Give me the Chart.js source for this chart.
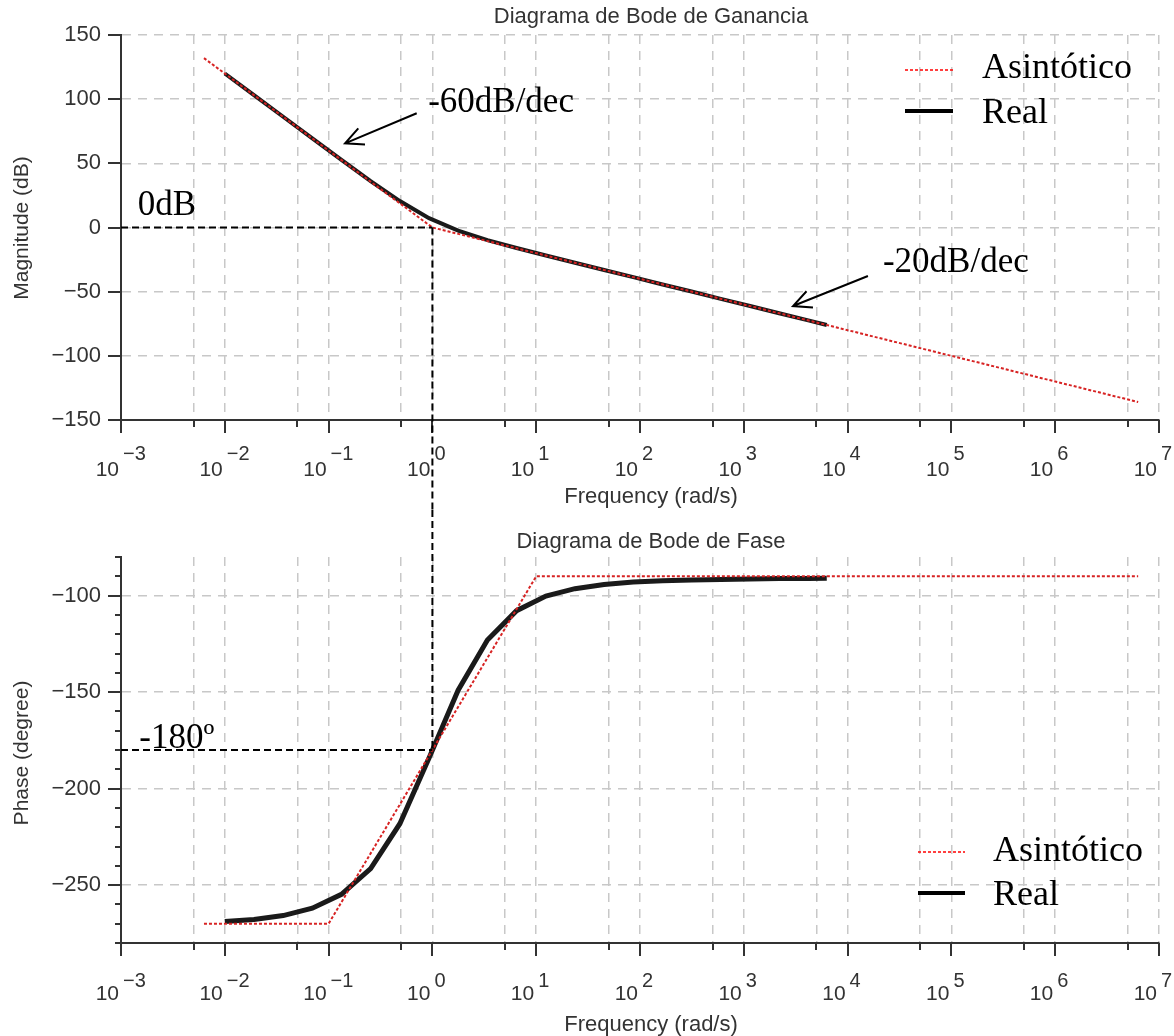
<!DOCTYPE html>
<html>
<head>
<meta charset="utf-8">
<title>Diagrama de Bode</title>
<script src="https://cdn.jsdelivr.net/npm/chart.js@4"></script>
<style>
    body {
        margin: 0;
        background-color: #ffffff;
    }
    .wrap {
        position: relative;
        width: 1174px;
        height: 1036px;
    }
    canvas {
        position: absolute;
        left: 0;
    }
    #magChart { top: 0; }
    #phaseChart { top: 510px; }
</style>
</head>
<body>
<div class="wrap">
    <canvas id="magChart" width="1174" height="510"></canvas>
    <canvas id="phaseChart" width="1174" height="526"></canvas>
</div>

<script>
// ---- values ----
// asymptotic (straight line) approximation
const asymMagFreq = [0.0063, 1, 6.3e6];
const asymMag = [132, 0, -136];
const asymPhaseFreq = [0.0063, 0.1, 10, 6.3e6];
const asymPhase = [-270, -270, -90, -90];

// real response
const realFreq = [0.01, 0.0191, 0.0365, 0.0697, 0.133, 0.254, 0.486, 0.928, 1.77, 3.39, 6.47,
                  12.4, 23.6, 45.1, 86.2, 165, 314, 600, 1150, 2190, 4180, 6300];
const realMag = [120.0, 103.2, 86.3, 69.5, 52.7, 36.2, 20.6, 7.3, -2.5, -9.9, -16.0,
                 -21.8, -27.5, -33.1, -38.7, -44.4, -49.9, -55.6, -61.2, -66.8, -72.4, -76.0];
const realPhase = [-268.9, -267.8, -265.8, -262.0, -254.8, -241.5, -218.2, -184.2, -149.0, -123.0, -107.8,
                   -100.2, -96.4, -94.2, -93.0, -92.3, -91.9, -91.6, -91.4, -91.2, -91.1, -91.0];

// axes
const decadeExps = [-3, -2, -1, 0, 1, 2, 3, 4, 5, 6, 7];
const magTicks = [-150, -100, -50, 0, 50, 100, 150];
const phaseTicks = [-250, -200, -150, -100];

// crossover point marked with the black dashed lines
const crossFreq = 1;
const crossMag = 0;
const crossPhase = -180;

const SANS = "'Liberation Sans', Arial, sans-serif";
const SERIF = "'Liberation Serif', 'Times New Roman', serif";
Chart.defaults.font.family = SANS;

// grid at 10^n and 5*10^n
const freqGrid = [];
decadeExps.forEach(n => {
    freqGrid.push(Math.pow(10, n));
    if (n < 7) freqGrid.push(5 * Math.pow(10, n));
});

function pts(xs, ys) {
    return xs.map((v, i) => ({x: v, y: ys[i]}));
}
function minusSign(s) {
    return String(s).replace('-', '\u2212');
}
function isDecade(v) {
    const l = Math.log10(v);
    return Math.abs(l - Math.round(l)) < 1e-6;
}

function drawArrow(ctx, x1, y1, x2, y2) {
    const ang = Math.atan2(y1 - y2, x1 - x2);
    const len = 20, spread = 0.45;
    ctx.beginPath();
    ctx.moveTo(x1, y1);
    ctx.lineTo(x2, y2);
    ctx.moveTo(x2 + len * Math.cos(ang - spread), y2 + len * Math.sin(ang - spread));
    ctx.lineTo(x2, y2);
    ctx.lineTo(x2 + len * Math.cos(ang + spread), y2 + len * Math.sin(ang + spread));
    ctx.stroke();
}

// ticks, superscript labels, titles, guide lines, notes and legend
const bodeDecor = {
    id: 'bodeDecor',
    afterDraw(chart, args, o) {
        const ctx = chart.ctx;
        const ca = chart.chartArea;
        const xs = chart.scales.x;
        const ys = chart.scales.y;
        ctx.save();

        // tick marks
        ctx.strokeStyle = '#333';
        ctx.lineWidth = 2;
        ctx.setLineDash([]);
        ctx.beginPath();
        freqGrid.forEach(v => {
            const px = Math.round(xs.getPixelForValue(v));
            ctx.moveTo(px, ca.bottom);
            ctx.lineTo(px, ca.bottom + (isDecade(v) ? 13 : 7));
        });
        ys.ticks.forEach(t => {
            const py = Math.round(ys.getPixelForValue(t.value));
            ctx.moveTo(ca.left, py);
            ctx.lineTo(ca.left - 13, py);
        });
        (o.minorY || []).forEach(v => {
            const py = Math.round(ys.getPixelForValue(v));
            ctx.moveTo(ca.left, py);
            ctx.lineTo(ca.left - 6, py);
        });
        ctx.stroke();

        // x tick labels 10^n
        ctx.fillStyle = '#333';
        ctx.textBaseline = 'alphabetic';
        decadeExps.forEach(n => {
            const px = xs.getPixelForValue(Math.pow(10, n));
            ctx.font = '21px ' + SANS;
            ctx.textAlign = 'right';
            ctx.fillText('10', px - 2, ca.bottom + o.baseDy);
            ctx.font = '20px ' + SANS;
            ctx.textAlign = 'left';
            ctx.fillText(minusSign(n), px + 2, ca.bottom + o.expDy);
        });

        // titles
        ctx.font = '22px ' + SANS;
        ctx.textAlign = 'center';
        ctx.textBaseline = 'middle';
        ctx.fillText(o.title, o.centerX, o.titleY);
        ctx.fillText('Frequency (rad/s)', o.centerX, ca.bottom + o.xTitleDy);
        ctx.font = '21px ' + SANS;
        ctx.save();
        ctx.translate(22, o.yTitleY);
        ctx.rotate(-Math.PI / 2);
        ctx.fillText(o.yTitle, 0, 0);
        ctx.restore();

        // black dashed guide lines
        const gx = xs.getPixelForValue(crossFreq);
        const gy = ys.getPixelForValue(o.guideY);
        ctx.strokeStyle = '#000';
        ctx.lineWidth = 2;
        ctx.setLineDash([7, 4]);
        ctx.beginPath();
        ctx.moveTo(ca.left, gy);
        ctx.lineTo(gx, gy);
        ctx.stroke();
        ctx.beginPath();
        if (o.guideDown) {
            ctx.moveTo(gx, gy);
            ctx.lineTo(gx, chart.height);
        } else {
            ctx.moveTo(gx, 0);
            ctx.lineTo(gx, gy);
        }
        ctx.stroke();
        ctx.setLineDash([]);

        // notes
        ctx.fillStyle = '#000';
        ctx.font = '35px ' + SERIF;
        ctx.textAlign = 'left';
        ctx.textBaseline = 'alphabetic';
        (o.notes || []).forEach(nt => {
            ctx.fillText(nt.text, xs.getPixelForValue(nt.x), ys.getPixelForValue(nt.y));
        });
        ctx.lineWidth = 2;
        ctx.strokeStyle = '#000';
        (o.arrows || []).forEach(a => {
            drawArrow(ctx,
                xs.getPixelForValue(a.from[0]), ys.getPixelForValue(a.from[1]),
                xs.getPixelForValue(a.to[0]), ys.getPixelForValue(a.to[1]));
        });

        // legend
        const lg = o.legend;
        ctx.font = '36px ' + SERIF;
        chart.data.datasets.forEach((ds, i) => {
            const ly = lg.y + i * lg.gap;
            ctx.strokeStyle = lg.colors[i];
            ctx.lineWidth = lg.widths[i];
            ctx.setLineDash(lg.dashes[i]);
            ctx.beginPath();
            ctx.moveTo(lg.x0, ly);
            ctx.lineTo(lg.x1, ly);
            ctx.stroke();
            ctx.setLineDash([]);
            ctx.fillStyle = '#000';
            ctx.fillText(ds.label, lg.textX, ly + lg.textDy[i]);
        });

        ctx.restore();
    }
};

function gridLook() {
    return {
        color: '#c8c8c8',
        lineWidth: 1.5,
        drawTicks: false
    };
}
function borderLook() {
    return {display: true, color: '#333', width: 2, dash: [9, 7]};
}

function makeChart(id, cfg) {
    return new Chart(document.getElementById(id).getContext('2d'), {
        type: 'line',
        data: {
            datasets: [{
                label: 'Asintótico',
                data: cfg.asym,
                borderColor: 'rgb(215, 35, 35)',
                borderWidth: 2,
                borderDash: [3, 2],
                pointRadius: 0,
                tension: 0,
                fill: false
            }, {
                label: 'Real',
                data: cfg.real,
                borderColor: '#1a1a1a',
                borderWidth: cfg.realWidth,
                pointRadius: 0,
                tension: 0,
                fill: false
            }]
        },
        options: {
            responsive: false,
            animation: false,
            events: [],
            layout: {padding: cfg.padding},
            plugins: {
                legend: {display: false},
                tooltip: {enabled: false},
                title: {display: false},
                bodeDecor: cfg.decor
            },
            scales: {
                x: {
                    type: 'logarithmic',
                    position: 'bottom',
                    min: 1e-3,
                    max: 1e7,
                    afterBuildTicks: s => { s.ticks = freqGrid.map(v => ({value: v})); },
                    afterFit: s => { s.height = cfg.xHeight; },
                    ticks: {display: false},
                    grid: gridLook(),
                    border: borderLook()
                },
                y: {
                    type: 'linear',
                    min: cfg.yMin,
                    max: cfg.yMax,
                    afterBuildTicks: s => { s.ticks = cfg.yTicks.map(v => ({value: v})); },
                    afterFit: s => { s.width = 121; },
                    ticks: {
                        padding: 20,
                        color: '#333',
                        font: {size: 22, family: SANS},
                        callback: v => minusSign(v)
                    },
                    grid: gridLook(),
                    border: borderLook()
                }
            }
        },
        plugins: [bodeDecor]
    });
}

const minorPhase = [];
for (let v = -280; v <= -80; v += 10) minorPhase.push(v);

makeChart('magChart', {
    asym: pts(asymMagFreq, asymMag),
    real: pts(realFreq, realMag),
    realWidth: 4,
    padding: {left: 0, top: 35, right: 15, bottom: 0},
    xHeight: 90,
    yMin: -150,
    yMax: 150,
    yTicks: magTicks,
    decor: {
        baseDy: 56,
        expDy: 40,
        title: 'Diagrama de Bode de Ganancia',
        centerX: 651,
        titleY: 17,
        xTitleDy: 77,
        yTitle: 'Magnitude (dB)',
        yTitleY: 228,
        guideY: crossMag,
        guideDown: true,
        notes: [
            {text: '-60dB/dec', x: 0.91, y: 90},
            {text: '-20dB/dec', x: 21900, y: -34.4},
            {text: '0dB', x: 0.00145, y: 9.7}
        ],
        arrows: [
            {from: [0.706, 89], to: [0.144, 65.6]},
            {from: [15700, -37.8], to: [2980, -61.2]}
        ],
        legend: {
            x0: 905, x1: 953, y: 70, gap: 41, textX: 982,
            textDy: [8, 12],
            colors: ['#ff0000', '#000'],
            widths: [1.5, 4],
            dashes: [[3, 2], []]
        }
    }
});

makeChart('phaseChart', {
    asym: pts(asymPhaseFreq, asymPhase),
    real: pts(realFreq, realPhase),
    realWidth: 5,
    padding: {left: 0, top: 47, right: 15, bottom: 0},
    xHeight: 93,
    yMin: -280,
    yMax: -80,
    yTicks: phaseTicks,
    decor: {
        minorY: minorPhase,
        baseDy: 57,
        expDy: 44,
        title: 'Diagrama de Bode de Fase',
        centerX: 651,
        titleY: 32,
        xTitleDy: 82,
        yTitle: 'Phase (degree)',
        yTitleY: 243,
        guideY: crossPhase,
        guideDown: false,
        notes: [
            {text: '-180º', x: 0.0015, y: -179.1}
        ],
        arrows: [],
        legend: {
            x0: 918, x1: 965, y: 342, gap: 41, textX: 993,
            textDy: [9, 12],
            colors: ['#ff0000', '#000'],
            widths: [1.5, 4],
            dashes: [[3, 2], []]
        }
    }
});
</script>
</body>
</html>
